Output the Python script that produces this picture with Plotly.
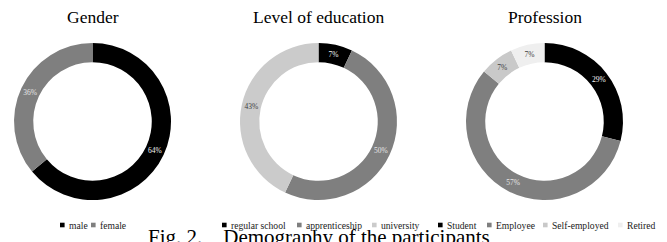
import plotly.graph_objects as go

W, H = 667, 242

# ---- data ----
gender_labels = ["male", "female"]
gender_values = [64, 36]
edu_labels = ["regular school", "apprenticeship", "university"]
edu_values = [7, 50, 43]
prof_labels = ["Student", "Employee", "Self-employed", "Retired"]
prof_values = [29, 57, 7, 7]
titles = ["Gender", "Level of education", "Profession"]

gender_colors = ["#000000", "#7f7f7f"]
edu_colors = ["#000000", "#7f7f7f", "#cbcbcb"]
prof_colors = ["#000000", "#7f7f7f", "#c9c9c9", "#efefef"]

def txtcol(c):
    return {"#000000": "#f2f2f2", "#7f7f7f": "#e6e6e6"}.get(c, "#404040")

FONT = "Liberation Serif, Times New Roman, serif"

def px(x):
    return x / W

def py(y):
    return (H - y) / H

# pie layout (pixel centers/radius)
centers = [(92.5, 121.5), (318.5, 121.5), (544.5, 121.5)]
R = 78.5

fig = go.Figure()
groups = [
    (gender_labels, gender_values, gender_colors),
    (edu_labels, edu_values, edu_colors),
    (prof_labels, prof_values, prof_colors),
]
for (labels, values, colors), (cx, cy) in zip(groups, centers):
    tf = dict(family=FONT, size=7.5, color=[txtcol(c) for c in colors])
    fig.add_trace(go.Pie(
        labels=labels, values=values, sort=False, direction="clockwise",
        rotation=0, hole=0.755,
        marker=dict(colors=colors, line=dict(width=0)),
        texttemplate="%{percent:.0%}", textposition="inside",
        insidetextorientation="horizontal",
        textfont=tf, insidetextfont=tf,
        domain=dict(x=[px(cx - R), px(cx + R)], y=[py(cy + R), py(cy - R)]),
        showlegend=False, hoverinfo="label+percent",
    ))

annotations = []
shapes = []
# titles
for t, (cx, cy) in zip(titles, centers):
    annotations.append(dict(text=t, x=px(cx), y=py(16.5), xref="paper", yref="paper",
                            xanchor="center", yanchor="middle", showarrow=False,
                            font=dict(family=FONT, size=17.5, color="#000000")))

# legends
legend_x = [[60, 91], [222, 297, 372], [438, 487, 543, 618]]
LY = 225
for (labels, values, colors), xs in zip(groups, legend_x):
    for lab, col, x0 in zip(labels, colors, xs):
        shapes.append(dict(type="rect", xref="paper", yref="paper",
                           x0=px(x0), x1=px(x0 + 4.6), y0=py(LY + 2.3), y1=py(LY - 2.3),
                           fillcolor=col, line=dict(width=0)))
        annotations.append(dict(text=lab, x=px(x0 + 6.5), y=py(LY), xref="paper", yref="paper",
                                xanchor="left", yanchor="middle", showarrow=False,
                                font=dict(family=FONT, size=9.6, color="#1a1a1a")))

# caption
annotations.append(dict(text="Fig. 2.&nbsp;&nbsp;&nbsp; Demography of the participants",
                        x=px(146), y=py(237), xref="paper", yref="paper",
                        xanchor="left", yanchor="middle", showarrow=False,
                        font=dict(family=FONT, size=21, color="#000000")))

fig.update_layout(
    width=W, height=H, margin=dict(l=0, r=0, t=0, b=0),
    paper_bgcolor="#ffffff", plot_bgcolor="#ffffff",
    annotations=annotations, shapes=shapes,
)

fig.write_html("out.html", config={"displayModeBar": False},
               post_script="document.body.style.margin='0px';")
